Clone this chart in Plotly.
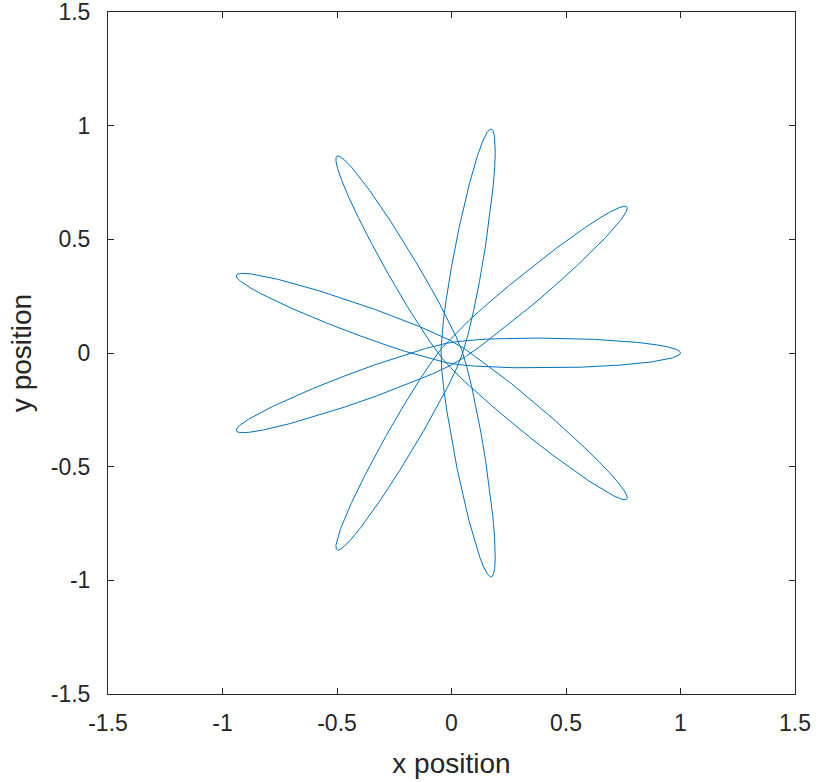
import numpy as np
import plotly.graph_objects as go

# Apoapsis directions (deg) in the order the orbit visits them
tip_order_deg = [0, 200, 40, 240, 80, 280, 120, 320, 160]
# Outer (apoapsis) and inner (periapsis) radii of the orbit
r_apo = 1.0
r_peri = 0.046

tick_vals = [-1.5, -1.0, -0.5, 0.0, 0.5, 1.0, 1.5]
tick_text = ["-1.5", "-1", "-0.5", "0", "0.5", "1", "1.5"]

line_color = "#0072BD"
axis_color = "#262626"
font_family = "Liberation Sans, Arial, sans-serif"

# Apsidal angle: half of the advance between consecutive apoapses
advance = np.deg2rad((tip_order_deg[1] - tip_order_deg[0]) % 360)
apsidal = advance / 2.0

N = 6000
u_edges = np.linspace(0.0, np.pi, N + 1)
u_mid = 0.5 * (u_edges[:-1] + u_edges[1:])
du = np.pi / N


def potential(r, a):
    if abs(a) < 1e-9:
        return np.log(r)
    return r ** a / a


def sweep(a):
    """Angle swept from periapsis out to radius r(u) in a power-law potential."""
    L2 = 2 * (potential(r_apo, a) - potential(r_peri, a)) / (1 / r_peri**2 - 1 / r_apo**2)
    E = potential(r_apo, a) + L2 / (2 * r_apo**2)
    r = r_peri + (r_apo - r_peri) * (1 - np.cos(u_mid)) / 2
    drdu = (r_apo - r_peri) / 2 * np.sin(u_mid)
    F = 2 * (E - potential(r, a)) - L2 / r**2
    F = np.maximum(F, 1e-300)
    dphi = np.sqrt(L2) / r**2 / np.sqrt(F) * drdu * du
    return np.concatenate([[0.0], np.cumsum(dphi)])


# Choose the power-law exponent whose apsidal angle matches the tip spacing
lo, hi = -0.95, 8.0
for _ in range(80):
    mid = 0.5 * (lo + hi)
    if sweep(mid)[-1] > apsidal:
        lo = mid
    else:
        hi = mid
alpha = 0.5 * (lo + hi)
phi = sweep(alpha)
delta = phi[-1]
r_edges = r_peri + (r_apo - r_peri) * (1 - np.cos(u_edges)) / 2

step = 5
idx = np.arange(0, N + 1, step)
if idx[-1] != N:
    idx = np.append(idx, N)
r_s = r_edges[idx]
phi_s = phi[idx]

xs, ys = [], []
for tip in tip_order_deg:
    th = np.deg2rad(tip)
    # apoapsis -> periapsis
    ang_in = th + (delta - phi_s[::-1])
    r_in = r_s[::-1]
    # periapsis -> next apoapsis
    ang_out = th + delta + phi_s
    r_out = r_s
    ang = np.concatenate([ang_in, ang_out[1:]])
    rr = np.concatenate([r_in, r_out[1:]])
    xs.append(rr * np.cos(ang))
    ys.append(rr * np.sin(ang))
x = np.concatenate(xs)
y = np.concatenate(ys)

fig = go.Figure()
fig.add_trace(go.Scatter(x=x, y=y, mode="lines",
                         line=dict(color=line_color, width=1),
                         hoverinfo="skip", showlegend=False))

axis_common = dict(
    range=[-1.5, 1.5],
    tickvals=tick_vals,
    ticktext=tick_text,
    showgrid=False,
    zeroline=False,
    showline=True,
    linecolor=axis_color,
    linewidth=1,
    mirror="ticks",
    ticks="inside",
    ticklen=6,
    tickwidth=1,
    tickcolor=axis_color,
    automargin=False,
    ticklabeloverflow="allow",
    tickfont=dict(family=font_family, size=23, color=axis_color),
)

fig.update_layout(
    width=820,
    height=782,
    margin=dict(l=108, r=25, t=12, b=88),
    paper_bgcolor="white",
    plot_bgcolor="white",
    xaxis=dict(**axis_common, ticklabelstandoff=8,
               title=dict(text="x position", standoff=18,
                          font=dict(family=font_family, size=28, color=axis_color))),
    yaxis=dict(**axis_common, ticklabelstandoff=12,
               title=dict(text="y position", standoff=10,
                          font=dict(family=font_family, size=28, color=axis_color))),
)

fig.write_html("out.html")
